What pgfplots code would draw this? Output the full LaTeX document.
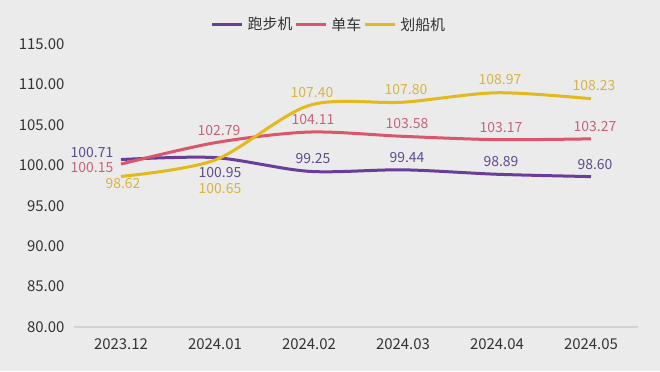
\documentclass[border=0pt]{standalone}
\usepackage{fontspec}
\setmainfont{Noto Sans CJK SC}
\usepackage{pgfplots}
\pgfplotsset{compat=1.18}
\definecolor{bg}{HTML}{EBEBEB}
\definecolor{cp}{HTML}{6A3D9A}
\definecolor{cr}{HTML}{D9566C}
\definecolor{cg}{HTML}{E3B91C}
\definecolor{lp}{HTML}{5E4C8C}
\definecolor{lr}{HTML}{C56479}
\definecolor{lg}{HTML}{D6B443}
\definecolor{txt}{HTML}{333333}
\definecolor{axl}{HTML}{D2D2D2}
\pgfplotsset{
  lab/.style={draw=none, mark=none, forget plot, nodes near coords, point meta=explicit symbolic,
    every node near coord/.style={anchor=center, text=#1, font=\fontsize{14}{16}\selectfont}},
}
\begin{document}
\begin{tikzpicture}[x=1bp,y=1bp]
\fill[bg] (0,0) rectangle (660,371);
\useasboundingbox (0,0) rectangle (660,371);
\begin{axis}[at={(74bp,44bp)}, anchor=south west, scale only axis,
  width=564bp, height=283bp,
  xmin=-0.5, xmax=5.5, ymin=80, ymax=115,
  xtick={0,1,2,3,4,5},
  xticklabels={2023.12,2024.01,2024.02,2024.03,2024.04,2024.05},
  ytick={80,85,90,95,100,105,110,115},
  /pgf/number format/assume math mode=true,
  ticklabel style={text=txt, font=\fontsize{15}{17}\selectfont},
  xticklabel style={yshift=-8bp},
  yticklabel style={xshift=-6bp, /pgf/number format/.cd, fixed, fixed zerofill, precision=2},
  axis x line*=bottom, axis y line*=left,
  x axis line style={draw=axl, line width=1.2bp},
  y axis line style={draw=none},
  major tick length=0pt, tick style={draw=none},
  clip=false,
  legend columns=3,
  legend style={at={(0.452,1.069)}, anchor=center, draw=none, fill=none,
    font=\fontsize{15}{17}\selectfont, text=txt, column sep=2bp,
    /tikz/every even column/.append style={column sep=0bp}},
  legend image code/.code={\draw[#1, line width=3bp] (0bp,0bp) -- (30bp,0bp);},
]
\addplot[cp, line width=3bp, smooth] coordinates {(0,100.71)(1,100.95)(2,99.25)(3,99.44)(4,98.89)(5,98.60)};
\addlegendentry{跑步机}
\addplot[cr, line width=3bp, smooth] coordinates {(0,100.15)(1,102.79)(2,104.11)(3,103.58)(4,103.17)(5,103.27)};
\addlegendentry{单车}
\addplot[cg, line width=3bp, smooth] coordinates {(0,98.62)(1,100.65)(2,107.40)(3,107.80)(4,108.97)(5,108.23)};
\addlegendentry{划船机}
% labels: normal (above)
\addplot[lab=lp, every node near coord/.append style={xshift=4bp, yshift=12.5bp}] coordinates {(2,99.25)[99.25] (3,99.44)[99.44] (4,98.89)[98.89] (5,98.60)[98.60]};
\addplot[lab=lr, every node near coord/.append style={xshift=4bp, yshift=12.5bp}] coordinates {(1,102.79)[102.79] (2,104.11)[104.11] (3,103.58)[103.58] (4,103.17)[103.17] (5,103.27)[103.27]};
\addplot[lab=lg, every node near coord/.append style={xshift=3bp, yshift=13bp}] coordinates {(2,107.40)[107.40] (3,107.80)[107.80] (4,108.97)[108.97] (5,108.23)[108.23]};
% labels: exceptions
\addplot[lab=lp, every node near coord/.append style={xshift=-29bp, yshift=7.5bp}] coordinates {(0,100.71)[100.71]};
\addplot[lab=lr, every node near coord/.append style={xshift=-29bp, yshift=-3bp}] coordinates {(0,100.15)[100.15]};
\addplot[lab=lg, every node near coord/.append style={xshift=2bp, yshift=-7bp}] coordinates {(0,98.62)[98.62]};
\addplot[lab=lp, every node near coord/.append style={xshift=5bp, yshift=-14.5bp}] coordinates {(1,100.95)[100.95]};
\addplot[lab=lg, every node near coord/.append style={xshift=5bp, yshift=-28bp}] coordinates {(1,100.65)[100.65]};
\end{axis}
\end{tikzpicture}
\end{document}
